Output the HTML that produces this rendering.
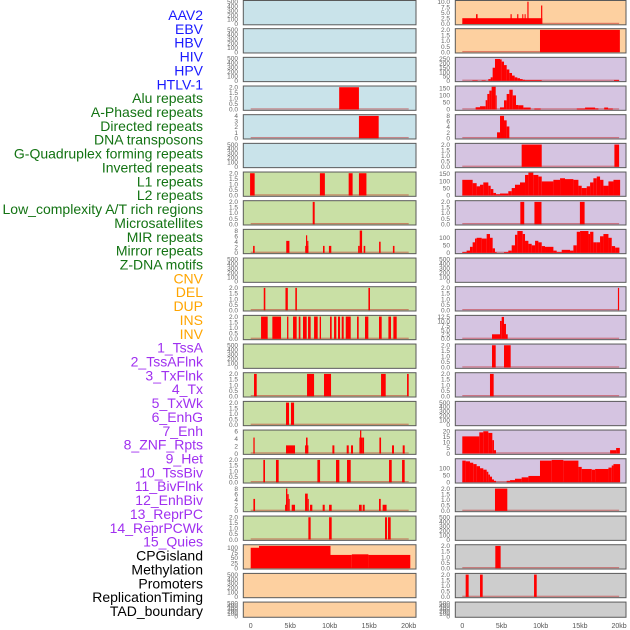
<!DOCTYPE html>
<html><head><meta charset="utf-8"><style>
html,body{margin:0;padding:0;background:#fff;}
svg{display:block;font-family:"Liberation Sans",sans-serif;}
</style></head><body>
<svg id="chart" width="630" height="630" viewBox="0 0 630 630" xmlns="http://www.w3.org/2000/svg">
<g id="labels" font-size="14" text-anchor="end"></g>
<g id="panels"></g>
</svg>
<script>
// ---------- data ----------
const trackNames = ["AAV2","EBV","HBV","HIV","HPV","HTLV-1","Alu repeats","A-Phased repeats","Directed repeats","DNA transposons","G-Quadruplex forming repeats","Inverted repeats","L1 repeats","L2 repeats","Low_complexity A/T rich regions","Microsatellites","MIR repeats","Mirror repeats","Z-DNA motifs","CNV","DEL","DUP","INS","INV","1_TssA","2_TssAFlnk","3_TxFlnk","4_Tx","5_TxWk","6_EnhG","7_Enh","8_ZNF_Rpts","9_Het","10_TssBiv","11_BivFlnk","12_EnhBiv","13_ReprPC","14_ReprPCWk","15_Quies","CPGisland","Methylation","Promoters","ReplicationTiming","TAD_boundary"];
const trackGroups = ["v","v","v","v","v","v","r","r","r","r","r","r","r","r","r","r","r","r","r","s","s","s","s","s","c","c","c","c","c","c","c","c","c","c","c","c","c","c","c","o","o","o","o","o"];
const xTickKb = [0,5,10,15,20];
const xTickLabels = ["0","5kb","10kb","15kb","20kb"];

// tick sets
const T_EMPTY = [0,100,200,300,400,500];
const T_2 = [0,0.5,1,1.5,2];
const T_4 = [0,1,2,3,4];
const T_8 = [0,2,4,6,8];
const T_6 = [0,2,4,6];
const T_10 = [0,2.5,5,7.5,10];
const T_250 = [0,50,100,150,200,250];
const T_150 = [0,50,100,150];
const T_100 = [0,50,100];
const T_12 = [0,2.5,5,7.5,10,12.5];
const T_20 = [0,5,10,15,20];
const T_CPG = [0,25,50,75,100];

// left column segments [startKb, endKb, value]
const L04 = [[11.2,13.7,2]];
const L05 = [[13.7,16.2,4]];
const L07 = [[-0.08,0.5,2],[8.76,9.39,2],[12.4,12.9,2],[13.7,14.65,2]];
const L08 = [[7.85,8.1,2]];
const L09 = [[0.3,0.5,2.5],[4.5,4.9,4.3],[6.9,7.3,2.5],[7.0,7.15,6.3],[7.15,7.3,4.3],[9.15,9.35,2.5],[9.9,10.2,2.5],[13.6,13.8,2.5],[13.8,14.1,8],[14.3,14.5,2.5],[16.25,16.45,4],[18.0,18.2,2.5]];
const L11 = [[1.65,1.85,2],[4.4,4.7,2],[5.65,5.85,2],[14.9,15.1,2]];
const L12 = [[1.31,2.15,2],[2.74,3.84,2],[4.6,4.77,2],[5.36,5.82,2],[6.08,6.29,2],[6.62,7.09,2],[7.26,7.59,2],[8.02,8.48,2],[8.73,8.9,2],[10.04,10.25,2],[10.55,10.84,2],[11.05,11.31,2],[11.52,11.77,2],[12.03,12.66,2],[13.46,13.67,2],[14.47,14.89,2],[16.24,16.58,2],[17.43,17.76,2],[18.06,18.48,2]];
const L14 = [[0.42,0.76,2],[7.13,8.02,2],[9.28,10.17,2],[16.5,17.09,2],[19.79,20.0,2]];
const L15 = [[4.47,4.85,2],[5.1,5.49,2]];
const L16 = [[0.34,0.5,4.3],[4.47,5.61,2.2],[6.88,7.3,2.2],[7.0,7.2,4.3],[10.34,10.59,2.2],[12.15,12.41,2.2],[12.7,12.95,2.2],[13.76,14.09,4.3],[13.84,14.0,6.5],[14.1,14.35,4.3],[16.29,16.5,4.3],[17.89,18.14,2.2],[19.24,19.49,2.2]];
const L17 = [[1.6,1.81,2],[3.2,3.54,2],[8.44,8.78,2],[10.8,11.22,2],[12.19,12.66,2],[17.51,17.85,2],[19.16,19.49,2]];
const L18 = [[0.34,0.55,4.3],[4.35,4.56,2.2],[4.47,4.64,8],[4.64,4.81,6],[4.81,4.9,4.3],[5.19,5.61,2.2],[6.88,7.22,6.2],[7.22,7.35,4.3],[7.51,7.8,2.2],[9.11,9.37,2.2],[9.92,10.25,2.2],[13.71,14.05,2.2],[14.18,14.43,2.2],[16.24,16.46,4.3],[16.7,17.2,2.2]];
const L19 = [[7.3,7.59,2],[9.92,10.25,2],[17.0,17.26,2],[17.38,17.72,2]];
const L20 = [[0,1.05,100],[1.05,10.1,109],[10.1,12.8,65],[12.8,14.9,68],[14.9,20.2,65]];

// right column segments
const R01 = [[0,10.2,2.6],[1.75,1.95,4.4],[6.15,6.3,4.4],[7.0,7.15,4.4],[7.65,7.75,4.4],[7.95,8.05,4.4],[8.3,8.45,10],[10.05,10.2,8.3]];
const R02 = [[9.91,20.1,2]];
const R03 = [[1.28,1.96,5],[2.47,2.98,5],[3.32,3.62,20],[3.62,3.87,40],[3.87,4.17,150],[4.17,4.81,250],[4.81,5.02,245],[5.02,5.32,220],[5.32,5.66,180],[5.66,6.0,130],[6.0,6.34,90],[6.34,6.68,60],[6.68,7.02,40],[7.02,7.36,30],[7.36,7.7,20],[7.7,8.0,12],[8.0,10.13,8],[19.35,20.0,10]];
const R04 = [[1.7,2.26,16],[2.26,2.98,23],[2.98,3.19,66],[3.19,3.45,110],[3.45,3.74,134],[3.74,4.26,161],[4.26,4.38,100],[4.81,5.32,15],[5.32,5.66,65],[5.66,6.0,110],[6.0,6.43,140],[6.43,6.85,100],[6.85,7.15,32],[7.15,7.79,30],[7.79,8.72,14],[9.19,10.0,7],[14.6,15.66,7],[15.66,16.94,14],[16.94,17.36,8],[18.1,18.6,14],[18.6,19.2,7]];
const R05 = [[4.43,4.81,2.1],[4.81,5.32,8],[5.32,5.66,6.4],[5.66,6.0,4.2]];
const R06 = [[7.57,10.13,2],[19.4,20.0,2]];
const R07_edges = [0,1.32,1.83,2.26,2.68,3.32,3.62,3.96,4.3,4.81,5.87,6.3,6.72,7.36,8.0,8.43,9.06,9.7,10.13,11.62,12.47,13.1,14.17,14.81,15.23,15.87,16.3,16.72,17.15,17.57,18.0,18.64,19.28,20.13];
const R07_vals = [109,86,64,75,91,68,45,18,9,14,30,52,75,91,143,159,143,132,98,109,120,114,109,68,52,64,91,120,132,109,68,98,109];
const R08 = [[7.4,7.9,2],[9.2,10.1,2],[15.0,15.6,2]];
const R09a_edges = [0,0.55,0.98,1.32,1.62,1.83,2.47,3.11,3.53,3.87,4.17,4.38];
const R09a_vals = [5,15,40,70,95,100,95,125,100,30,5];
const R09b_edges = [5.32,5.87,6.3,6.72,7.02,7.7,8.0,8.43,8.85,9.28,9.7,10.13,10.55,11.62,12.04,12.68,13.1,13.74,14.17,14.6,15.02,16.09,16.3,16.72,17.15,17.57,18.0,18.64,19.06,19.49,20.04];
const R09b_vals = [5,15,50,120,145,125,80,60,50,80,70,45,40,15,5,20,20,15,50,140,145,125,140,70,70,110,125,100,45,35];
const R11 = [[19.85,20.0,2]];
const R12 = [[3.79,4.81,2.6],[4.81,5.02,10.2],[5.02,5.32,12.5],[5.32,5.57,8.5],[5.57,5.79,2.6]];
const R13 = [[3.79,4.26,2],[5.32,6.17,2]];
const R14 = [[3.53,4.0,2]];
const R16 = [[0,2.17,15.4],[2.17,2.68,19],[2.68,3.32,20],[3.32,3.83,18.5],[3.83,4.04,12],[4.04,4.3,3],[18.85,19.62,3],[19.62,20.1,5]];
const R17a_edges = [0,0.43,0.98,1.4,1.83,2.26,2.68,3.11,3.32,3.53,3.79,4.04,4.3];
const R17a_vals = [155,150,140,130,115,100,90,75,55,40,20,10];
const R17b_edges = [5.66,6.09,6.72,7.57,8.43,9.91,11.4,12.89,14.81,15.23,16.51,16.94,18.64,19.06,19.28,20.13];
const R17b_vals = [10,15,25,35,45,155,160,155,110,95,90,95,105,120,130];
const R18 = [[4.17,5.74,2]];
const R20 = [[4.21,4.89,2]];
const R21 = [[0.43,0.81,2],[2.26,2.6,2],[9.15,9.49,2]];

function hist(edges, vals){ return vals.map((v,i)=>[edges[i],edges[i+1],v]); }

// per-row specs: [ticks, ymax, segments]
const leftRows = [
 [T_EMPTY,500,null],[T_EMPTY,500,null],[T_EMPTY,500,null],[T_2,2,L04],[T_4,4,L05],[T_EMPTY,500,null],
 [T_2,2,L07],[T_2,2,L08],[T_8,8,L09],[T_EMPTY,500,null],[T_2,2,L11],[T_2,2,L12],[T_EMPTY,500,null],
 [T_2,2,L14],[T_2,2,L15],[T_6,6,L16],[T_2,2,L17],[T_8,8,L18],[T_2,2,L19],[T_CPG,109,L20],[T_EMPTY,500,null],[T_EMPTY,500,null]
];
const rightRows = [
 [T_10,10,R01],[T_2,2,R02],[T_250,255,R03],[T_150,158,R04],[T_8,8,R05],[T_2,2,R06],
 [T_150,155,hist(R07_edges,R07_vals)],[T_2,2,R08],[T_100,148,hist(R09a_edges,R09a_vals).concat(hist(R09b_edges,R09b_vals))],
 [T_EMPTY,500,null],[T_2,2,R11],[T_12,12.7,R12],[T_2,2,R13],[T_2,2,R14],[T_EMPTY,500,null],[T_20,20,R16],
 [T_100,160,hist(R17a_edges,R17a_vals).concat(hist(R17b_edges,R17b_vals))],[T_2,2,R18],[T_EMPTY,500,null],[T_2,2,R20],[T_2,2,R21],[T_EMPTY,500,null]
];
const leftBg = ["b","b","b","b","b","b","g","g","g","g","g","g","g","g","g","g","g","g","g","o","o","o"];
const rightBg = ["o","o","p","p","p","p","p","p","p","p","p","p","p","p","p","p","p","k","k","k","k","k"];

// ---------- drawing ----------
const NS = "http://www.w3.org/2000/svg";
const bgColors = {b:"#c9e3ea", g:"#c9e0a5", o:"#fdd0a0", p:"#d5c4e1", k:"#cdcdcd"};
const groupColors = {v:"#1a1aff", r:"#137313", s:"#ffa500", c:"#a030f0", o:"#000000"};
function mk(tag, attrs, parent){
  const e = document.createElementNS(NS, tag);
  for (const k in attrs) e.setAttribute(k, attrs[k]);
  parent.appendChild(e);
  return e;
}
const labelsG = document.getElementById("labels");
trackNames.forEach((name,i)=>{
  const t = mk("text",{x:203, y:(20+i*13.86).toFixed(2), fill:groupColors[trackGroups[i]]}, labelsG);
  
  
  t.textContent = name;
});

const panelsG = document.getElementById("panels");
const cols = [
  {x0:243.3, x1:416, zero:250.7, ppk:7.9, tickX:238, rows:leftRows, bg:leftBg, side:"left"},
  {x0:455.3, x1:626, zero:462.3, ppk:7.84, tickX:450, rows:rightRows, bg:rightBg, side:"right"}
];
function fmt(v, ticks){
  const dec = ticks.some(t=>t%1!==0) || ticks[ticks.length-1]<=2;
  return dec ? v.toFixed(1) : String(v);
}
cols.forEach(c=>{
  c.rows.forEach((row,i)=>{
    const top = i*28.67 + (i===0?0.5:0);
    const h = i===21 ? 15.2 : 24.3;
    const ticks=row[0], ymax=row[1], segs=row[2];
    const yb = top+h-0.8, yt = top+1.2;
    const ys = v => yb - (v/ymax)*(yb-yt);
    const xs = kb => c.zero + kb*c.ppk;
    const g = mk("g",{}, panelsG);
    
    
    const r = mk("rect",{x:c.x0, y:top, width:c.x1-c.x0, height:h, fill:bgColors[c.bg[i]], stroke:"#5a5a5a", "stroke-width":1}, g);
    
    
    ticks.forEach(tv=>{
      const tt = mk("text",{x:c.tickX, y:(ys(tv)+2.2).toFixed(2), "font-size":6.5, fill:"#666", "text-anchor":"end"}, g);
      
      
      tt.textContent = fmt(tv, ticks);
    });
    if (segs){
      const bl = mk("rect",{x:xs(0), y:yb-1.2, width:xs(20)-xs(0), height:1.2, fill:"rgba(190,20,20,0.45)"}, g);
      
      
      segs.forEach(s=>{
        const x1 = Math.max(xs(s[0]), c.x0+0.5), x2 = Math.min(xs(s[1]), c.x1-0.5);
        const yv = Math.max(ys(s[2]), top+0.5);
        const b = mk("rect",{x:x1.toFixed(2), y:yv.toFixed(2), width:Math.max(x2-x1,1).toFixed(2), height:(yb-yv).toFixed(2), fill:"#ff0000"}, g);
        
        
      });
    }
  });
  xTickKb.forEach((kb,j)=>{
    const t = mk("text",{x:c.zero+kb*c.ppk, y:628, "font-size":7, fill:"#555", "text-anchor":"middle"}, panelsG);
    
    
    t.textContent = xTickLabels[j];
  });
});
</script>
</body></html>
